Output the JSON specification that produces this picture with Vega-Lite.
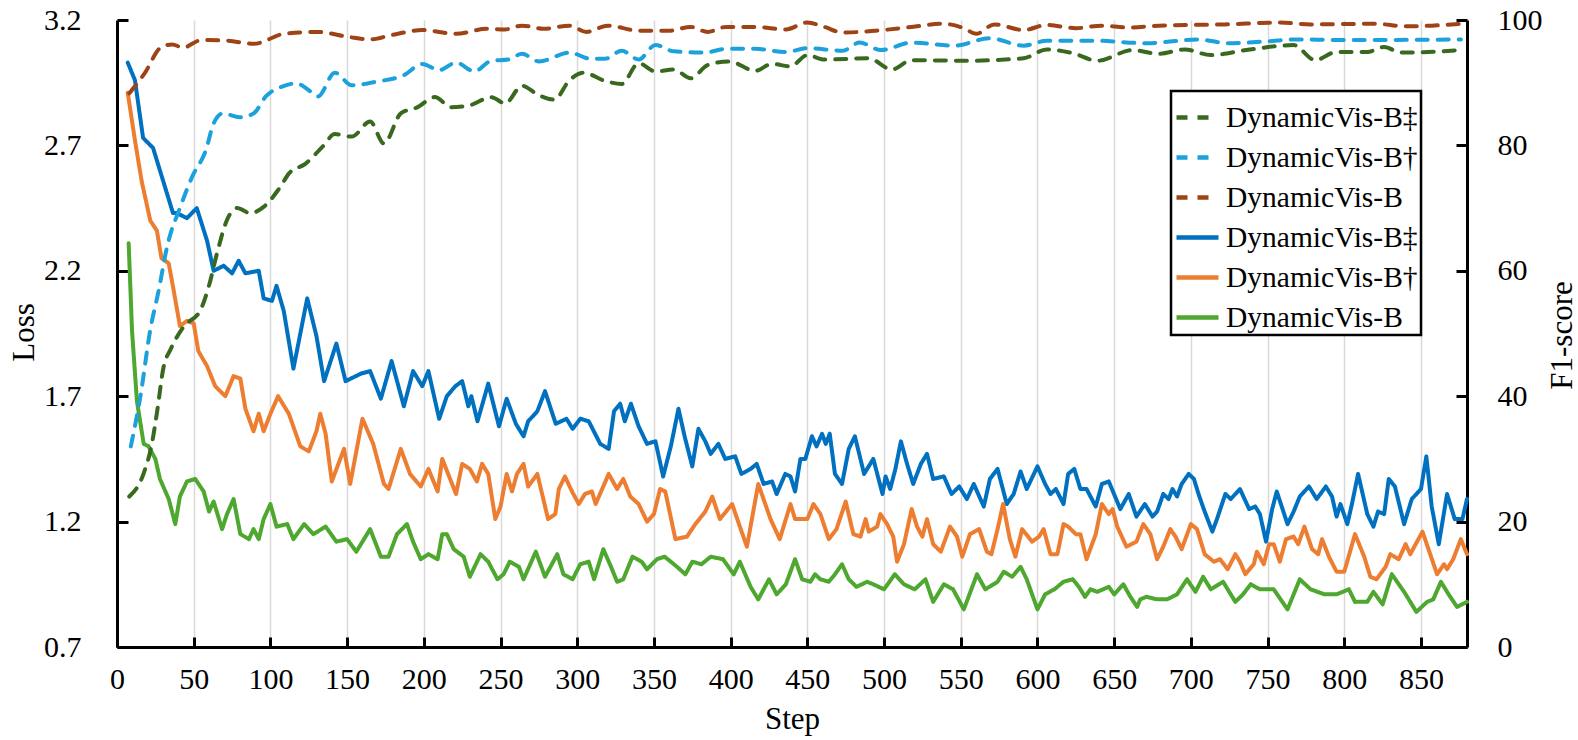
{
  "$schema": "https://vega.github.io/schema/vega-lite/v6.json",
  "width": 1350,
  "height": 627,
  "autosize": {"type": "none"},
  "padding": {"left": 117, "top": 20, "right": 111, "bottom": 93},
  "background": "white",
  "config": {
    "font": "Liberation Serif",
    "view": {"stroke": null},
    "axis": {
      "domainColor": "black",
      "domainWidth": 3,
      "tickColor": "black",
      "tickWidth": 3,
      "labelColor": "black",
      "labelFont": "Liberation Serif",
      "labelFontSize": 30,
      "titleColor": "black",
      "titleFont": "Liberation Serif",
      "titleFontSize": 31,
      "titleFontWeight": "normal",
      "grid": false
    },
    "legend": {"labelFont": "Liberation Serif"}
  },
  "data": {
    "values": [
      {"k":"L‡","x":7,"y":3.03},{"k":"L‡","x":11.7,"y":2.96},{"k":"L‡","x":17,"y":2.73},{"k":"L‡","x":23.5,"y":2.69},{"k":"L‡","x":30,"y":2.56},{"k":"L‡","x":36.5,"y":2.43},{"k":"L‡","x":39,"y":2.43},{"k":"L‡","x":45.6,"y":2.41},{"k":"L‡","x":52,"y":2.45},{"k":"L‡","x":58.7,"y":2.32},{"k":"L‡","x":63,"y":2.2},{"k":"L‡","x":69.5,"y":2.22},{"k":"L‡","x":75,"y":2.19},{"k":"L‡","x":79.3,"y":2.24},{"k":"L‡","x":83.7,"y":2.19},{"k":"L‡","x":92.4,"y":2.2},{"k":"L‡","x":95.6,"y":2.09},{"k":"L‡","x":101,"y":2.08},{"k":"L‡","x":104,"y":2.14},{"k":"L‡","x":108.7,"y":2.04},{"k":"L‡","x":115,"y":1.81},{"k":"L‡","x":124,"y":2.09},{"k":"L‡","x":130,"y":1.94},{"k":"L‡","x":135,"y":1.76},{"k":"L‡","x":143,"y":1.91},{"k":"L‡","x":149,"y":1.76},{"k":"L‡","x":159,"y":1.79},{"k":"L‡","x":165,"y":1.8},{"k":"L‡","x":172,"y":1.69},{"k":"L‡","x":179,"y":1.84},{"k":"L‡","x":187,"y":1.66},{"k":"L‡","x":193,"y":1.8},{"k":"L‡","x":199,"y":1.74},{"k":"L‡","x":203,"y":1.8},{"k":"L‡","x":210,"y":1.61},{"k":"L‡","x":215,"y":1.7},{"k":"L‡","x":220.6,"y":1.74},{"k":"L‡","x":225,"y":1.76},{"k":"L‡","x":229,"y":1.66},{"k":"L‡","x":231,"y":1.7},{"k":"L‡","x":235,"y":1.6},{"k":"L‡","x":242,"y":1.75},{"k":"L‡","x":249,"y":1.58},{"k":"L‡","x":254,"y":1.69},{"k":"L‡","x":260,"y":1.59},{"k":"L‡","x":265,"y":1.54},{"k":"L‡","x":268,"y":1.6},{"k":"L‡","x":274,"y":1.64},{"k":"L‡","x":279,"y":1.72},{"k":"L‡","x":286,"y":1.59},{"k":"L‡","x":293,"y":1.61},{"k":"L‡","x":297,"y":1.57},{"k":"L‡","x":302,"y":1.61},{"k":"L‡","x":307.5,"y":1.6},{"k":"L‡","x":315,"y":1.51},{"k":"L‡","x":320.5,"y":1.49},{"k":"L‡","x":324,"y":1.64},{"k":"L‡","x":328,"y":1.67},{"k":"L‡","x":331,"y":1.6},{"k":"L‡","x":335,"y":1.67},{"k":"L‡","x":340,"y":1.58},{"k":"L‡","x":345.5,"y":1.51},{"k":"L‡","x":351,"y":1.52},{"k":"L‡","x":356,"y":1.38},{"k":"L‡","x":361,"y":1.5},{"k":"L‡","x":366,"y":1.65},{"k":"L‡","x":370,"y":1.54},{"k":"L‡","x":375,"y":1.42},{"k":"L‡","x":379,"y":1.57},{"k":"L‡","x":383.5,"y":1.52},{"k":"L‡","x":387,"y":1.47},{"k":"L‡","x":392,"y":1.51},{"k":"L‡","x":396.5,"y":1.45},{"k":"L‡","x":403,"y":1.46},{"k":"L‡","x":407,"y":1.39},{"k":"L‡","x":413,"y":1.41},{"k":"L‡","x":417,"y":1.43},{"k":"L‡","x":421.5,"y":1.35},{"k":"L‡","x":427,"y":1.36},{"k":"L‡","x":430,"y":1.31},{"k":"L‡","x":435.6,"y":1.39},{"k":"L‡","x":439,"y":1.38},{"k":"L‡","x":442,"y":1.32},{"k":"L‡","x":445.5,"y":1.45},{"k":"L‡","x":448.7,"y":1.45},{"k":"L‡","x":453,"y":1.54},{"k":"L‡","x":456,"y":1.5},{"k":"L‡","x":459.6,"y":1.55},{"k":"L‡","x":462,"y":1.51},{"k":"L‡","x":464.6,"y":1.55},{"k":"L‡","x":468,"y":1.39},{"k":"L‡","x":472.6,"y":1.35},{"k":"L‡","x":477,"y":1.49},{"k":"L‡","x":481,"y":1.54},{"k":"L‡","x":487,"y":1.39},{"k":"L‡","x":493,"y":1.45},{"k":"L‡","x":499,"y":1.31},{"k":"L‡","x":501,"y":1.38},{"k":"L‡","x":504,"y":1.33},{"k":"L‡","x":507.4,"y":1.41},{"k":"L‡","x":511,"y":1.52},{"k":"L‡","x":515,"y":1.43},{"k":"L‡","x":519,"y":1.35},{"k":"L‡","x":524,"y":1.43},{"k":"L‡","x":528,"y":1.47},{"k":"L‡","x":532,"y":1.37},{"k":"L‡","x":539,"y":1.38},{"k":"L‡","x":544,"y":1.31},{"k":"L‡","x":549,"y":1.34},{"k":"L‡","x":554,"y":1.29},{"k":"L‡","x":558.5,"y":1.35},{"k":"L‡","x":565,"y":1.26},{"k":"L‡","x":569,"y":1.37},{"k":"L‡","x":574,"y":1.41},{"k":"L‡","x":580,"y":1.27},{"k":"L‡","x":584.5,"y":1.31},{"k":"L‡","x":589,"y":1.4},{"k":"L‡","x":593,"y":1.33},{"k":"L‡","x":600,"y":1.42},{"k":"L‡","x":605,"y":1.35},{"k":"L‡","x":608.5,"y":1.31},{"k":"L‡","x":612,"y":1.33},{"k":"L‡","x":617,"y":1.27},{"k":"L‡","x":620,"y":1.39},{"k":"L‡","x":624,"y":1.41},{"k":"L‡","x":628,"y":1.33},{"k":"L‡","x":632,"y":1.33},{"k":"L‡","x":638,"y":1.26},{"k":"L‡","x":642,"y":1.35},{"k":"L‡","x":646.5,"y":1.36},{"k":"L‡","x":654,"y":1.25},{"k":"L‡","x":659.5,"y":1.31},{"k":"L‡","x":664.5,"y":1.22},{"k":"L‡","x":670,"y":1.27},{"k":"L‡","x":675,"y":1.22},{"k":"L‡","x":678,"y":1.24},{"k":"L‡","x":682,"y":1.31},{"k":"L‡","x":685.5,"y":1.29},{"k":"L‡","x":688,"y":1.33},{"k":"L‡","x":691,"y":1.3},{"k":"L‡","x":694,"y":1.35},{"k":"L‡","x":698.6,"y":1.39},{"k":"L‡","x":702,"y":1.37},{"k":"L‡","x":705,"y":1.31},{"k":"L‡","x":708.4,"y":1.25},{"k":"L‡","x":714,"y":1.16},{"k":"L‡","x":717,"y":1.21},{"k":"L‡","x":722.5,"y":1.31},{"k":"L‡","x":726,"y":1.29},{"k":"L‡","x":732,"y":1.33},{"k":"L‡","x":738,"y":1.25},{"k":"L‡","x":742,"y":1.26},{"k":"L‡","x":745,"y":1.23},{"k":"L‡","x":749,"y":1.12},{"k":"L‡","x":753,"y":1.25},{"k":"L‡","x":756,"y":1.32},{"k":"L‡","x":763,"y":1.19},{"k":"L‡","x":767,"y":1.24},{"k":"L‡","x":771,"y":1.3},{"k":"L‡","x":777,"y":1.34},{"k":"L‡","x":782,"y":1.29},{"k":"L‡","x":788,"y":1.34},{"k":"L‡","x":792,"y":1.3},{"k":"L‡","x":795,"y":1.22},{"k":"L‡","x":797.5,"y":1.27},{"k":"L‡","x":802,"y":1.19},{"k":"L‡","x":805,"y":1.27},{"k":"L‡","x":809,"y":1.39},{"k":"L‡","x":815,"y":1.23},{"k":"L‡","x":819,"y":1.18},{"k":"L‡","x":822,"y":1.24},{"k":"L‡","x":826,"y":1.23},{"k":"L‡","x":829,"y":1.37},{"k":"L‡","x":833,"y":1.34},{"k":"L‡","x":839,"y":1.19},{"k":"L‡","x":844,"y":1.29},{"k":"L‡","x":850,"y":1.33},{"k":"L‡","x":853.5,"y":1.46},{"k":"L‡","x":857,"y":1.26},{"k":"L‡","x":861.6,"y":1.11},{"k":"L‡","x":867,"y":1.31},{"k":"L‡","x":872,"y":1.21},{"k":"L‡","x":877,"y":1.21},{"k":"L‡","x":880,"y":1.29},

      {"k":"L†","x":7,"y":2.91},{"k":"L†","x":11.7,"y":2.72},{"k":"L†","x":16,"y":2.56},{"k":"L†","x":21.7,"y":2.4},{"k":"L†","x":26,"y":2.36},{"k":"L†","x":29,"y":2.25},{"k":"L†","x":33.7,"y":2.23},{"k":"L†","x":37,"y":2.12},{"k":"L†","x":41,"y":1.98},{"k":"L†","x":45.6,"y":2.0},{"k":"L†","x":50,"y":1.99},{"k":"L†","x":53,"y":1.88},{"k":"L†","x":58.7,"y":1.82},{"k":"L†","x":64,"y":1.74},{"k":"L†","x":70.6,"y":1.7},{"k":"L†","x":76,"y":1.78},{"k":"L†","x":80.4,"y":1.77},{"k":"L†","x":83.7,"y":1.65},{"k":"L†","x":89,"y":1.56},{"k":"L†","x":92.4,"y":1.63},{"k":"L†","x":95.6,"y":1.56},{"k":"L†","x":100,"y":1.63},{"k":"L†","x":105,"y":1.7},{"k":"L†","x":112,"y":1.63},{"k":"L†","x":119.5,"y":1.5},{"k":"L†","x":125,"y":1.48},{"k":"L†","x":130,"y":1.56},{"k":"L†","x":132.5,"y":1.63},{"k":"L†","x":136,"y":1.55},{"k":"L†","x":140,"y":1.36},{"k":"L†","x":148,"y":1.49},{"k":"L†","x":152,"y":1.35},{"k":"L†","x":160,"y":1.61},{"k":"L†","x":167,"y":1.51},{"k":"L†","x":174,"y":1.35},{"k":"L†","x":177,"y":1.33},{"k":"L†","x":185,"y":1.49},{"k":"L†","x":191,"y":1.39},{"k":"L†","x":198,"y":1.34},{"k":"L†","x":203,"y":1.41},{"k":"L†","x":209,"y":1.32},{"k":"L†","x":212,"y":1.45},{"k":"L†","x":221,"y":1.31},{"k":"L†","x":225,"y":1.43},{"k":"L†","x":230,"y":1.41},{"k":"L†","x":234.6,"y":1.36},{"k":"L†","x":238,"y":1.43},{"k":"L†","x":242,"y":1.39},{"k":"L†","x":246.6,"y":1.21},{"k":"L†","x":250,"y":1.26},{"k":"L†","x":254,"y":1.39},{"k":"L†","x":257.5,"y":1.32},{"k":"L†","x":260.7,"y":1.39},{"k":"L†","x":265,"y":1.43},{"k":"L†","x":268,"y":1.34},{"k":"L†","x":274,"y":1.39},{"k":"L†","x":281,"y":1.21},{"k":"L†","x":285.7,"y":1.23},{"k":"L†","x":288,"y":1.33},{"k":"L†","x":292,"y":1.38},{"k":"L†","x":296.6,"y":1.32},{"k":"L†","x":301,"y":1.27},{"k":"L†","x":305,"y":1.31},{"k":"L†","x":309.6,"y":1.32},{"k":"L†","x":312,"y":1.27},{"k":"L†","x":320.5,"y":1.39},{"k":"L†","x":326,"y":1.33},{"k":"L†","x":330,"y":1.37},{"k":"L†","x":334.6,"y":1.3},{"k":"L†","x":340,"y":1.27},{"k":"L†","x":345.5,"y":1.2},{"k":"L†","x":350,"y":1.23},{"k":"L†","x":354,"y":1.33},{"k":"L†","x":357.4,"y":1.32},{"k":"L†","x":364,"y":1.13},{"k":"L†","x":371.5,"y":1.14},{"k":"L†","x":377,"y":1.19},{"k":"L†","x":383.5,"y":1.24},{"k":"L†","x":388,"y":1.3},{"k":"L†","x":393,"y":1.21},{"k":"L†","x":401,"y":1.27},{"k":"L†","x":406,"y":1.18},{"k":"L†","x":410.6,"y":1.1},{"k":"L†","x":418,"y":1.35},{"k":"L†","x":426,"y":1.21},{"k":"L†","x":432,"y":1.13},{"k":"L†","x":439,"y":1.27},{"k":"L†","x":442,"y":1.21},{"k":"L†","x":446.6,"y":1.21},{"k":"L†","x":450,"y":1.21},{"k":"L†","x":454,"y":1.27},{"k":"L†","x":458.5,"y":1.23},{"k":"L†","x":464,"y":1.13},{"k":"L†","x":469,"y":1.17},{"k":"L†","x":475,"y":1.28},{"k":"L†","x":480,"y":1.15},{"k":"L†","x":484.6,"y":1.14},{"k":"L†","x":488,"y":1.21},{"k":"L†","x":490,"y":1.16},{"k":"L†","x":495.5,"y":1.18},{"k":"L†","x":497.6,"y":1.23},{"k":"L†","x":502,"y":1.19},{"k":"L†","x":506,"y":1.14},{"k":"L†","x":508.5,"y":1.04},{"k":"L†","x":513,"y":1.11},{"k":"L†","x":518,"y":1.25},{"k":"L†","x":521.5,"y":1.18},{"k":"L†","x":525,"y":1.14},{"k":"L†","x":528,"y":1.21},{"k":"L†","x":532,"y":1.11},{"k":"L†","x":537,"y":1.08},{"k":"L†","x":543,"y":1.18},{"k":"L†","x":547.6,"y":1.14},{"k":"L†","x":551,"y":1.06},{"k":"L†","x":556,"y":1.15},{"k":"L†","x":562,"y":1.17},{"k":"L†","x":567,"y":1.08},{"k":"L†","x":570,"y":1.07},{"k":"L†","x":574,"y":1.17},{"k":"L†","x":577.6,"y":1.27},{"k":"L†","x":582,"y":1.13},{"k":"L†","x":585.6,"y":1.06},{"k":"L†","x":590,"y":1.17},{"k":"L†","x":596.5,"y":1.12},{"k":"L†","x":601,"y":1.14},{"k":"L†","x":604,"y":1.17},{"k":"L†","x":608.5,"y":1.07},{"k":"L†","x":613,"y":1.07},{"k":"L†","x":617,"y":1.19},{"k":"L†","x":620,"y":1.18},{"k":"L†","x":625,"y":1.15},{"k":"L†","x":628,"y":1.15},{"k":"L†","x":632,"y":1.05},{"k":"L†","x":638,"y":1.15},{"k":"L†","x":642,"y":1.27},{"k":"L†","x":646.5,"y":1.23},{"k":"L†","x":649,"y":1.25},{"k":"L†","x":652,"y":1.18},{"k":"L†","x":658,"y":1.1},{"k":"L†","x":664.5,"y":1.12},{"k":"L†","x":669,"y":1.19},{"k":"L†","x":673.6,"y":1.15},{"k":"L†","x":678,"y":1.05},{"k":"L†","x":682,"y":1.1},{"k":"L†","x":686.6,"y":1.17},{"k":"L†","x":690,"y":1.14},{"k":"L†","x":694,"y":1.09},{"k":"L†","x":700,"y":1.19},{"k":"L†","x":704,"y":1.17},{"k":"L†","x":709,"y":1.07},{"k":"L†","x":715,"y":1.04},{"k":"L†","x":719,"y":1.05},{"k":"L†","x":724,"y":1.01},{"k":"L†","x":729,"y":1.07},{"k":"L†","x":732,"y":1.04},{"k":"L†","x":735.5,"y":0.99},{"k":"L†","x":741,"y":1.03},{"k":"L†","x":743,"y":1.08},{"k":"L†","x":747.5,"y":1.03},{"k":"L†","x":751,"y":1.11},{"k":"L†","x":754,"y":1.11},{"k":"L†","x":758,"y":1.04},{"k":"L†","x":762,"y":1.13},{"k":"L†","x":767,"y":1.14},{"k":"L†","x":770,"y":1.11},{"k":"L†","x":774,"y":1.18},{"k":"L†","x":779,"y":1.09},{"k":"L†","x":783,"y":1.07},{"k":"L†","x":785.5,"y":1.13},{"k":"L†","x":790,"y":1.06},{"k":"L†","x":795,"y":1.0},{"k":"L†","x":800,"y":1.0},{"k":"L†","x":807,"y":1.15},{"k":"L†","x":813,"y":1.06},{"k":"L†","x":817,"y":0.98},{"k":"L†","x":821,"y":0.97},{"k":"L†","x":827,"y":1.02},{"k":"L†","x":830,"y":1.07},{"k":"L†","x":835.5,"y":1.05},{"k":"L†","x":840,"y":1.11},{"k":"L†","x":843,"y":1.07},{"k":"L†","x":851,"y":1.16},{"k":"L†","x":856,"y":1.07},{"k":"L†","x":860.5,"y":0.99},{"k":"L†","x":865,"y":1.03},{"k":"L†","x":867,"y":1.01},{"k":"L†","x":871,"y":1.05},{"k":"L†","x":876,"y":1.13},{"k":"L†","x":880,"y":1.07},

      {"k":"L","x":7.6,"y":2.31},{"k":"L","x":9.8,"y":1.96},{"k":"L","x":13,"y":1.68},{"k":"L","x":17.4,"y":1.51},{"k":"L","x":20.6,"y":1.5},{"k":"L","x":25,"y":1.45},{"k":"L","x":28,"y":1.37},{"k":"L","x":33.7,"y":1.29},{"k":"L","x":38,"y":1.19},{"k":"L","x":41,"y":1.3},{"k":"L","x":45.6,"y":1.36},{"k":"L","x":51,"y":1.37},{"k":"L","x":56.5,"y":1.32},{"k":"L","x":60,"y":1.24},{"k":"L","x":63,"y":1.28},{"k":"L","x":68.5,"y":1.17},{"k":"L","x":71.7,"y":1.23},{"k":"L","x":76,"y":1.29},{"k":"L","x":80.4,"y":1.15},{"k":"L","x":86,"y":1.13},{"k":"L","x":89,"y":1.17},{"k":"L","x":92.4,"y":1.13},{"k":"L","x":95.6,"y":1.21},{"k":"L","x":100,"y":1.27},{"k":"L","x":104,"y":1.18},{"k":"L","x":111,"y":1.19},{"k":"L","x":115,"y":1.13},{"k":"L","x":122,"y":1.19},{"k":"L","x":128,"y":1.15},{"k":"L","x":136,"y":1.18},{"k":"L","x":143,"y":1.12},{"k":"L","x":150,"y":1.13},{"k":"L","x":156,"y":1.08},{"k":"L","x":165,"y":1.17},{"k":"L","x":172,"y":1.06},{"k":"L","x":177,"y":1.06},{"k":"L","x":182.5,"y":1.15},{"k":"L","x":189,"y":1.19},{"k":"L","x":193,"y":1.12},{"k":"L","x":198,"y":1.05},{"k":"L","x":203,"y":1.07},{"k":"L","x":209,"y":1.05},{"k":"L","x":212,"y":1.15},{"k":"L","x":215,"y":1.15},{"k":"L","x":219.5,"y":1.09},{"k":"L","x":226,"y":1.06},{"k":"L","x":230,"y":0.98},{"k":"L","x":237,"y":1.07},{"k":"L","x":242,"y":1.04},{"k":"L","x":248,"y":0.97},{"k":"L","x":252,"y":0.99},{"k":"L","x":256,"y":1.04},{"k":"L","x":262,"y":1.02},{"k":"L","x":265,"y":0.97},{"k":"L","x":273,"y":1.08},{"k":"L","x":279,"y":0.98},{"k":"L","x":287,"y":1.07},{"k":"L","x":291,"y":0.99},{"k":"L","x":297,"y":0.97},{"k":"L","x":302,"y":1.03},{"k":"L","x":307.5,"y":1.04},{"k":"L","x":311,"y":0.97},{"k":"L","x":317,"y":1.09},{"k":"L","x":322,"y":1.02},{"k":"L","x":326,"y":0.96},{"k":"L","x":330,"y":0.97},{"k":"L","x":336,"y":1.06},{"k":"L","x":342,"y":1.04},{"k":"L","x":345.5,"y":1.01},{"k":"L","x":352,"y":1.05},{"k":"L","x":357,"y":1.06},{"k":"L","x":365,"y":1.02},{"k":"L","x":370.5,"y":0.99},{"k":"L","x":375,"y":1.04},{"k":"L","x":381,"y":1.03},{"k":"L","x":387,"y":1.06},{"k":"L","x":395,"y":1.05},{"k":"L","x":402,"y":0.99},{"k":"L","x":406,"y":1.04},{"k":"L","x":413,"y":0.94},{"k":"L","x":418,"y":0.89},{"k":"L","x":425,"y":0.97},{"k":"L","x":430,"y":0.91},{"k":"L","x":436,"y":0.95},{"k":"L","x":442,"y":1.05},{"k":"L","x":446.6,"y":0.97},{"k":"L","x":452,"y":0.96},{"k":"L","x":455,"y":0.99},{"k":"L","x":458.5,"y":0.97},{"k":"L","x":464,"y":0.96},{"k":"L","x":468,"y":0.99},{"k":"L","x":472.6,"y":1.03},{"k":"L","x":477,"y":0.97},{"k":"L","x":482,"y":0.94},{"k":"L","x":489,"y":0.96},{"k":"L","x":493,"y":0.95},{"k":"L","x":500,"y":0.93},{"k":"L","x":507,"y":0.99},{"k":"L","x":513,"y":0.95},{"k":"L","x":520,"y":0.93},{"k":"L","x":527,"y":0.97},{"k":"L","x":532,"y":0.88},{"k":"L","x":539,"y":0.95},{"k":"L","x":545,"y":0.93},{"k":"L","x":552,"y":0.85},{"k":"L","x":560.6,"y":0.99},{"k":"L","x":566,"y":0.93},{"k":"L","x":574,"y":0.96},{"k":"L","x":578,"y":1.0},{"k":"L","x":583.5,"y":0.98},{"k":"L","x":589,"y":1.02},{"k":"L","x":593,"y":0.97},{"k":"L","x":600,"y":0.85},{"k":"L","x":605,"y":0.91},{"k":"L","x":611,"y":0.93},{"k":"L","x":617,"y":0.96},{"k":"L","x":623,"y":0.97},{"k":"L","x":627,"y":0.94},{"k":"L","x":631,"y":0.9},{"k":"L","x":634.5,"y":0.93},{"k":"L","x":639,"y":0.92},{"k":"L","x":646.5,"y":0.94},{"k":"L","x":650,"y":0.91},{"k":"L","x":656,"y":0.95},{"k":"L","x":660.6,"y":0.9},{"k":"L","x":665,"y":0.86},{"k":"L","x":667,"y":0.89},{"k":"L","x":671,"y":0.9},{"k":"L","x":678,"y":0.89},{"k":"L","x":684.5,"y":0.89},{"k":"L","x":691,"y":0.91},{"k":"L","x":697.5,"y":0.97},{"k":"L","x":703,"y":0.92},{"k":"L","x":708,"y":0.98},{"k":"L","x":713,"y":0.93},{"k":"L","x":721,"y":0.96},{"k":"L","x":729,"y":0.88},{"k":"L","x":734,"y":0.91},{"k":"L","x":739,"y":0.95},{"k":"L","x":745,"y":0.93},{"k":"L","x":754,"y":0.93},{"k":"L","x":763,"y":0.85},{"k":"L","x":771,"y":0.97},{"k":"L","x":778,"y":0.93},{"k":"L","x":787,"y":0.91},{"k":"L","x":795,"y":0.91},{"k":"L","x":803,"y":0.93},{"k":"L","x":807,"y":0.88},{"k":"L","x":815,"y":0.88},{"k":"L","x":819,"y":0.92},{"k":"L","x":825,"y":0.87},{"k":"L","x":831,"y":0.99},{"k":"L","x":839,"y":0.92},{"k":"L","x":847,"y":0.84},{"k":"L","x":854,"y":0.88},{"k":"L","x":858,"y":0.89},{"k":"L","x":863,"y":0.96},{"k":"L","x":868,"y":0.91},{"k":"L","x":873.5,"y":0.86},{"k":"L","x":880,"y":0.88},

      {"k":"F","x":8,"y":88.3},{"k":"F","x":18,"y":91.5},{"k":"F","x":29,"y":95.7},{"k":"F","x":36,"y":96.1},{"k":"F","x":43,"y":95.6},{"k":"F","x":55,"y":96.8},{"k":"F","x":72,"y":96.7},{"k":"F","x":89,"y":96.2},{"k":"F","x":109,"y":97.8},{"k":"F","x":131,"y":98.1},{"k":"F","x":151,"y":97.3},{"k":"F","x":165,"y":96.9},{"k":"F","x":179,"y":97.6},{"k":"F","x":199,"y":98.4},{"k":"F","x":221,"y":97.8},{"k":"F","x":241,"y":98.6},{"k":"F","x":253,"y":98.5},{"k":"F","x":264,"y":99.1},{"k":"F","x":278,"y":98.6},{"k":"F","x":295,"y":99.1},{"k":"F","x":306,"y":98.1},{"k":"F","x":320,"y":99.1},{"k":"F","x":340,"y":98.3},{"k":"F","x":360,"y":98.3},{"k":"F","x":374,"y":98.9},{"k":"F","x":385,"y":98.1},{"k":"F","x":397,"y":98.9},{"k":"F","x":416,"y":98.9},{"k":"F","x":436,"y":98.5},{"k":"F","x":450,"y":99.6},{"k":"F","x":461,"y":98.9},{"k":"F","x":473,"y":98.0},{"k":"F","x":495,"y":98.3},{"k":"F","x":518,"y":98.9},{"k":"F","x":538,"y":99.4},{"k":"F","x":552,"y":98.7},{"k":"F","x":560,"y":97.8},{"k":"F","x":572,"y":99.3},{"k":"F","x":591,"y":98.4},{"k":"F","x":606,"y":99.2},{"k":"F","x":625,"y":98.7},{"k":"F","x":642,"y":99.1},{"k":"F","x":659,"y":98.8},{"k":"F","x":679,"y":99.1},{"k":"F","x":722,"y":99.3},{"k":"F","x":758,"y":99.6},{"k":"F","x":778,"y":99.3},{"k":"F","x":820,"y":99.4},{"k":"F","x":840,"y":99.0},{"k":"F","x":857,"y":99.1},{"k":"F","x":876,"y":99.4},

      {"k":"F†","x":9,"y":32},{"k":"F†","x":15.2,"y":39.9},{"k":"F†","x":21.7,"y":50.6},{"k":"F†","x":27.2,"y":56.9},{"k":"F†","x":32.6,"y":63.8},{"k":"F†","x":41.3,"y":70.2},{"k":"F†","x":49,"y":75},{"k":"F†","x":58,"y":79.3},{"k":"F†","x":63,"y":83.5},{"k":"F†","x":69,"y":85.1},{"k":"F†","x":80,"y":84.5},{"k":"F†","x":89,"y":85.1},{"k":"F†","x":97,"y":87.8},{"k":"F†","x":109,"y":89.5},{"k":"F†","x":117,"y":89.9},{"k":"F†","x":125,"y":88.8},{"k":"F†","x":131,"y":87.8},{"k":"F†","x":142,"y":91.6},{"k":"F†","x":153,"y":89.6},{"k":"F†","x":170,"y":90.2},{"k":"F†","x":187,"y":91.2},{"k":"F†","x":199,"y":93.0},{"k":"F†","x":210,"y":92.0},{"k":"F†","x":221,"y":93.2},{"k":"F†","x":233,"y":91.8},{"k":"F†","x":244,"y":93.5},{"k":"F†","x":255,"y":93.7},{"k":"F†","x":264,"y":94.6},{"k":"F†","x":275,"y":93.4},{"k":"F†","x":295,"y":94.8},{"k":"F†","x":309,"y":93.8},{"k":"F†","x":318,"y":93.8},{"k":"F†","x":329,"y":95.1},{"k":"F†","x":340,"y":93.7},{"k":"F†","x":351,"y":96.0},{"k":"F†","x":363,"y":95.0},{"k":"F†","x":383,"y":94.8},{"k":"F†","x":397,"y":95.4},{"k":"F†","x":416,"y":95.4},{"k":"F†","x":436,"y":94.9},{"k":"F†","x":450,"y":95.5},{"k":"F†","x":473,"y":95.1},{"k":"F†","x":484,"y":96.4},{"k":"F†","x":498,"y":95.2},{"k":"F†","x":518,"y":96.4},{"k":"F†","x":546,"y":95.9},{"k":"F†","x":569,"y":97.1},{"k":"F†","x":591,"y":95.9},{"k":"F†","x":606,"y":96.7},{"k":"F†","x":637,"y":96.7},{"k":"F†","x":671,"y":96.3},{"k":"F†","x":705,"y":96.9},{"k":"F†","x":724,"y":96.3},{"k":"F†","x":750,"y":96.6},{"k":"F†","x":767,"y":96.9},{"k":"F†","x":806,"y":96.8},{"k":"F†","x":876,"y":96.9},

      {"k":"F‡","x":8,"y":24},{"k":"F‡","x":17.4,"y":27.7},{"k":"F‡","x":22.8,"y":32.5},{"k":"F‡","x":26,"y":37.3},{"k":"F‡","x":30.4,"y":44.7},{"k":"F‡","x":34.8,"y":47.4},{"k":"F‡","x":43.5,"y":51.1},{"k":"F‡","x":54.3,"y":53.7},{"k":"F‡","x":59.8,"y":57.5},{"k":"F‡","x":65.2,"y":62.8},{"k":"F‡","x":71.7,"y":68.1},{"k":"F‡","x":78.2,"y":70.0},{"k":"F‡","x":86.9,"y":69.2},{"k":"F‡","x":95.6,"y":70.2},{"k":"F‡","x":106.5,"y":73.4},{"k":"F‡","x":112,"y":75.5},{"k":"F‡","x":123,"y":77.1},{"k":"F‡","x":134,"y":79.8},{"k":"F‡","x":142,"y":81.8},{"k":"F‡","x":153,"y":81.4},{"k":"F‡","x":165,"y":83.8},{"k":"F‡","x":174,"y":80.3},{"k":"F‡","x":185,"y":85.1},{"k":"F‡","x":196,"y":86.1},{"k":"F‡","x":207,"y":87.7},{"k":"F‡","x":218,"y":86.1},{"k":"F‡","x":230,"y":86.4},{"k":"F‡","x":244,"y":87.7},{"k":"F‡","x":253,"y":86.7},{"k":"F‡","x":264,"y":89.5},{"k":"F‡","x":275,"y":88.0},{"k":"F‡","x":285,"y":87.3},{"k":"F‡","x":295,"y":90.4},{"k":"F‡","x":304,"y":91.6},{"k":"F‡","x":318,"y":90.3},{"k":"F‡","x":329,"y":89.8},{"k":"F‡","x":340,"y":93.1},{"k":"F‡","x":351,"y":91.8},{"k":"F‡","x":363,"y":92.1},{"k":"F‡","x":374,"y":90.7},{"k":"F‡","x":385,"y":92.8},{"k":"F‡","x":399,"y":93.4},{"k":"F‡","x":416,"y":91.9},{"k":"F‡","x":427,"y":93.0},{"k":"F‡","x":439,"y":92.6},{"k":"F‡","x":450,"y":94.4},{"k":"F‡","x":461,"y":93.7},{"k":"F‡","x":490,"y":93.9},{"k":"F‡","x":505,"y":92.1},{"k":"F‡","x":518,"y":93.6},{"k":"F‡","x":552,"y":93.5},{"k":"F‡","x":591,"y":93.9},{"k":"F‡","x":606,"y":95.3},{"k":"F‡","x":623,"y":94.7},{"k":"F‡","x":639,"y":93.5},{"k":"F‡","x":662,"y":95.2},{"k":"F‡","x":679,"y":94.6},{"k":"F‡","x":696,"y":95.3},{"k":"F‡","x":713,"y":94.4},{"k":"F‡","x":736,"y":95.2},{"k":"F‡","x":767,"y":96.0},{"k":"F‡","x":781,"y":93.6},{"k":"F‡","x":795,"y":94.9},{"k":"F‡","x":815,"y":94.9},{"k":"F‡","x":826,"y":95.7},{"k":"F‡","x":837,"y":94.8},{"k":"F‡","x":876,"y":95.2}
    ]
  },
  "encoding": {
    "x": {
      "field": "x",
      "type": "quantitative",
      "scale": {"domain": [0, 880], "nice": false, "zero": false},
      "axis": {
        "values": [0, 50, 100, 150, 200, 250, 300, 350, 400, 450, 500, 550, 600, 650, 700, 750, 800, 850],
        "grid": true,
        "gridColor": "#D9D9D9",
        "gridWidth": 1.5,
        "tickSize": -10,
        "labelPadding": 27,
        "labelFlush": false,
        "title": "Step",
        "titleX": 675,
        "titleY": 72,
        "titleBaseline": "middle"
      }
    },
    "color": {
      "field": "k",
      "type": "nominal",
      "scale": {
        "domain": ["F‡", "F†", "F", "L‡", "L†", "L"],
        "range": ["#38691F", "#1BA1DC", "#9E4316", "#0070C0", "#ED7D31", "#4EA72E"]
      },
      "legend": {
        "title": null,
        "orient": "none",
        "legendX": 1054,
        "legendY": 71,
        "fillColor": "white",
        "strokeColor": "black",
        "padding": 3,
        "symbolType": "stroke",
        "symbolSize": 1764,
        "symbolStrokeWidth": 4.5,
        "labelFont": "Liberation Serif",
        "labelFontSize": 29.5,
        "labelColor": "black",
        "labelOffset": 5,
        "labelLimit": 0,
        "rowPadding": 2,
        "labelExpr": "'DynamicVis-B' + slice(datum.label, 1)",
        "encode": {"legend": {"update": {"strokeWidth": {"value": 2.5}}}}
      }
    },
    "strokeDash": {
      "field": "k",
      "type": "nominal",
      "scale": {
        "domain": ["F‡", "F†", "F", "L‡", "L†", "L"],
        "range": [[11, 10], [11, 10], [11, 10], [1, 0], [1, 0], [1, 0]]
      },
      "legend": {
        "title": null,
        "orient": "none",
        "legendX": 1054,
        "legendY": 71,
        "labelExpr": "'DynamicVis-B' + slice(datum.label, 1)"
      }
    }
  },
  "layer": [
    {
      "transform": [{"filter": "indexof(datum.k, 'L') == 0"}],
      "mark": {"type": "line", "strokeWidth": 4, "strokeCap": "round", "strokeJoin": "round"},
      "encoding": {
        "y": {
          "field": "y",
          "type": "quantitative",
          "scale": {"domain": [0.7, 3.2], "nice": false, "zero": false},
          "axis": {
            "orient": "left",
            "values": [0.7, 1.2, 1.7, 2.2, 2.7, 3.2],
            "format": ".1f",
            "tickSize": -11,
            "labelPadding": 47,
            "title": "Loss",
            "titleAngle": -90,
            "titleX": -93,
            "titleY": 312,
            "titleAlign": "center",
            "titleBaseline": "middle"
          }
        }
      }
    },
    {
      "transform": [{"filter": "indexof(datum.k, 'F') == 0"}],
      "mark": {"type": "line", "strokeWidth": 4, "strokeCap": "round", "strokeJoin": "round", "interpolate": "monotone"},
      "encoding": {
        "y": {
          "field": "y",
          "type": "quantitative",
          "scale": {"domain": [0, 100], "nice": false},
          "axis": {
            "orient": "right",
            "values": [0, 20, 40, 60, 80, 100],
            "tickSize": -11,
            "labelPadding": 41,
            "title": "F1-score",
            "titleAngle": -90,
            "titleX": 95,
            "titleY": 315,
            "titleAlign": "center",
            "titleBaseline": "middle"
          }
        }
      }
    }
  ],
  "resolve": {"scale": {"y": "independent"}}
}
